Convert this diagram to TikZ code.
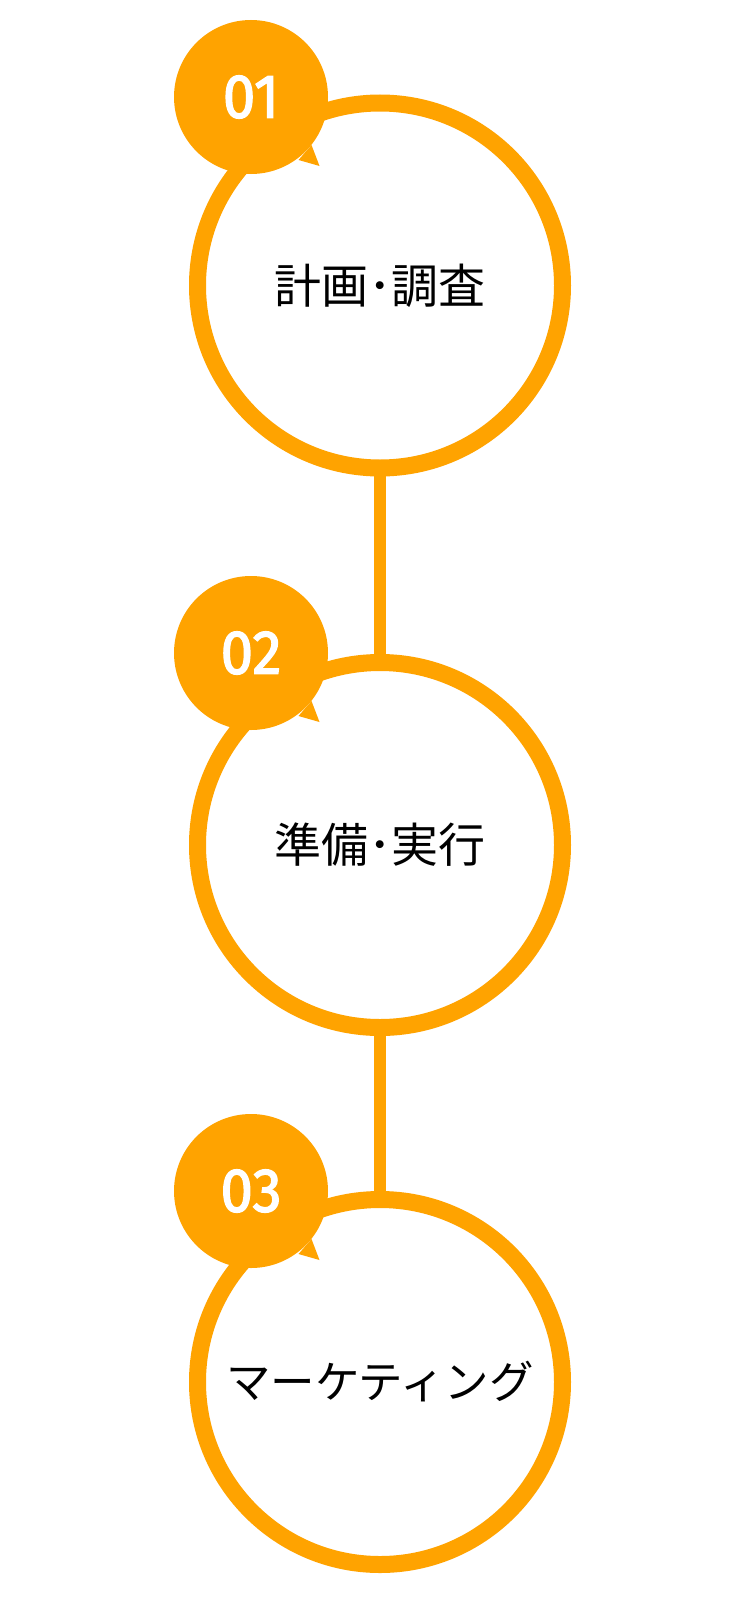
\documentclass[tikz,border=0pt]{standalone}
\usepackage{fontspec}
\newfontfamily\jpfont{Noto Sans CJK JP}
\newfontfamily\numfont[FakeBold=2.2]{Fira Sans}
\definecolor{accent}{RGB}{255,163,0}
\tikzset{
  ring/.style={circle, draw=accent, line width=17pt, fill=white, minimum size=365pt, inner sep=0pt, outer sep=0pt,
    font=\jpfont\fontsize{47}{55}\selectfont, text=black},
  kana/.style={font=\jpfont\fontsize{44.5}{52}\selectfont},
  badge/.style={circle, fill=accent, minimum size=154pt, inner sep=0pt, outer sep=0pt,
    font=\numfont\fontsize{62}{70}\selectfont, text=white},
  link/.style={draw=accent, line width=12pt},
}
\newcommand{\badgetail}[1]{%
  \fill[accent] ([shift={(60.5,48)}]#1.center) -- ([shift={(68.5,69)}]#1.center) -- ([shift={(47.5,63)}]#1.center) -- cycle;}
\begin{document}
\begin{tikzpicture}[x=1pt,y=-1pt]
\useasboundingbox[fill=white] (0,0) rectangle (750,1600);
\node[ring] (c1) at (380,285.5) {計画･調査};
\node[ring] (c2) at (380,845) {準備･実行};
\node[ring,kana] (c3) at (380,1382) {マーケティング};
\draw[link] (c1.south) -- (c2.north);
\draw[link] (c2.south) -- (c3.north);
\node[badge] (b1) at (251,97) {\scalebox{0.94}[1]{01}};
\node[badge] (b2) at (251,653) {\scalebox{0.94}[1]{02}};
\node[badge] (b3) at (251,1191) {\scalebox{0.94}[1]{03}};
\badgetail{b1}
\badgetail{b2}
\badgetail{b3}
\end{tikzpicture}
\end{document}
